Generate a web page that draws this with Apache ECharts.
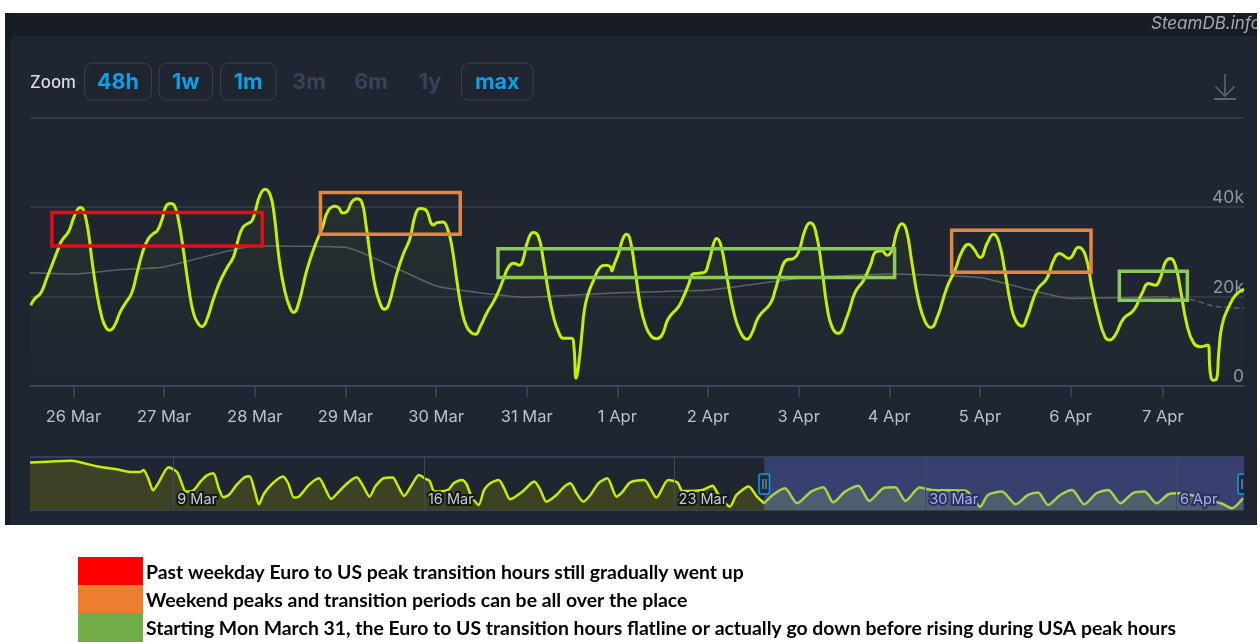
<!DOCTYPE html>
<html>
<head>
<meta charset="utf-8">
<title>Concurrent players</title>
<style>html,body{margin:0;padding:0;background:#fff}#chart{width:1260px;height:642px}</style>
<script src="https://cdn.jsdelivr.net/npm/echarts@6/dist/echarts.min.js"></script>
</head>
<body>
<div id="chart"></div>
<script>
// Hourly player counts: hours since 26 Mar 00:00, thousands of players
const mainHours = [-11.3,-10.2,-8.6,-7.1,-5.7,-4,-3.1,-1.3,0,1.1,1.9,2.8,4,4.9,6.2,7.5,8.6,9.5,10.6,12.4,13.7,15.4,16.8,18.5,19.9,21.2,22.2,23.4,24.5,25.6,26.7,27.8,29.1,30.5,31.8,33.1,34,35.1,37.1,38.8,40.6,42.4,43.7,44.8,45.9,47.2,48.1,49.4,50.8,52.1,53.1,54.5,56,57.4,58.3,59.6,61.8,64,65.8,67.5,69.3,70.2,71.3,72.4,73.7,75,76.3,77.4,78.6,79.9,81.2,82.3,83.4,85.6,87.4,89.1,90.5,91.8,93.1,95.3,96.2,97.8,99,100.2,101.5,102.8,104.1,105.5,106.4,107.7,109.4,111.2,112.5,113.9,115.2,116.5,118.1,119.1,120.2,121.8,123.1,124.4,125.8,127.1,128.4,129.7,131.9,132.5,133.1,133.7,134.7,135.2,136.1,137.7,139.5,140.9,142.2,142.5,143.1,144.3,145.5,146.5,147.4,148.7,150,151.4,152.9,154.4,155.8,157.5,160.2,161.5,162.8,164.2,166.8,168.2,169.5,170.3,171.4,173,174.7,176.5,178.3,179.6,181.4,184.5,185.8,187.1,188.7,190.7,192,193.7,195,196.4,198.2,199.5,200.8,202.4,204.8,207,209.2,211,212.5,214,215.4,216.7,218,219.3,220.5,222,223.7,225.5,227,228.6,231.3,233.4,235.2,237,238.3,240.1,241.9,243.6,245,246.7,248.1,249.4,251.2,252.4,255.1,257.7,259.5,261.1,263.5,266.1,267.9,269.6,271.4,273.1,274.3,275.8,278,280.7,282.9,284.7,286.4,287.7,289.1,290.4,291.7,293.1,294.8,296.6,298.3,300.3,301,301.7,302.6,303.2,304.1,305.9,307.7,309.9];
const mainPlayers = [18,19.5,20.8,24,27,30.7,32.5,34.5,37.5,39.5,39.9,39,34.1,28.1,20.7,15.4,13,12.4,13,16.5,18.4,20.7,25.1,30.4,33,34.1,34.7,37.1,40.2,40.8,40.4,37.1,30.4,22.1,16.2,13.8,13.2,14.3,19.5,23.3,26.3,28.9,33,35.4,36.2,36.9,39,42.7,44,42.7,38.6,28.1,21,17.3,16.4,18.4,25.9,31.5,35.2,39.3,40.2,39.9,38.7,39,41.2,41.9,41.2,36.3,28.9,22.1,18.4,17.1,18,25.1,29.6,33,38.2,39.7,39.5,36,36.5,36.7,35.2,31.1,23.6,16.9,13.2,11.7,11.5,13.2,16.2,18.8,21,24,26.6,27.4,27,28.5,32.2,34.3,33.4,28.1,20.7,15.4,12.1,10.6,10.6,8.7,1.6,4.2,12.4,16.5,20.1,23.6,26.6,27,26.6,25.7,27,29.6,33,33.9,32.6,25.9,18.4,13.6,11.1,10.5,11.3,15,17.7,19.9,22.5,25.1,25.3,27.7,31.9,33,31.5,24.4,16.9,12.1,10.4,11.7,15.4,18.4,21.4,25.1,28.1,28.5,30,34.9,36.5,34.9,25.9,17.7,13.2,11.7,15.4,21,23.6,27,30,30.2,29.2,30.4,34.5,36.3,34.9,27.4,19.2,14.3,13,15.1,22.1,25.9,30,31.7,30.7,28.7,31.9,33.9,32.2,25.1,18.4,14.7,13.3,15.1,21.4,24,28.1,29.6,28.5,31,29.2,22.1,15.4,10.9,10.2,11.3,15,16.9,20.7,22.9,22.5,24,27.7,28.5,27,21.4,13.6,9.5,8.7,9.1,2.7,1.2,1.4,7.2,13.6,17.7,20.3,21.6];

// Trailing average: settled part and the still-provisional tail
const averageHours = [-11.5,0.4,12.4,24,48,72,96.2,120,144,168,192,216,240,264,288.4];
const averagePlayers = [25.3,25,26,26.6,31.3,31,22.3,19.8,20.8,21.4,24,25,24.2,19.5,19.9];
const provisionalHours = [288.4,296.5,301.8,309.9];
const provisionalPlayers = [19.9,19.2,17.8,17.3];

// Highlighted stretches: [from hour, to hour, upper thousands, lower thousands]
const redBoxes = [[-5.7,50,38.8,31.3]];
const orangeBoxes = [[65.4,102.4,43.3,33.9],[232.5,269.4,34.8,25.4]];
const greenBoxes = [[112.4,217.4,30.7,24.2],[276.9,294.9,25.6,19.1]];

const dayTicks = [0,24,48,72,96,120,144,168,192,216,240,264,288.4];
const dayLabels = ['26 Mar','27 Mar','28 Mar','29 Mar','30 Mar','31 Mar','1 Apr','2 Apr','3 Apr','4 Apr','5 Apr','6 Apr','7 Apr'];
const playerTicks = {0:'0',20:'20k',40:'40k',60:''};

// Overview strip: days since 9 Mar, thousands of players
const overviewDays = [-4,-3.39,-2.88,-2.6,-2.15,-1.59,-1.2,-0.92,-0.83,-0.7,-0.56,-0.42,-0.13,0.11,0.22,0.35,0.54,0.76,0.93,1.12,1.27,1.4,1.55,1.77,2,2.13,2.28,2.39,2.54,2.78,3.06,3.21,3.37,3.51,3.79,4.07,4.24,4.41,4.58,4.86,5.12,5.31,5.48,5.64,5.87,6.13,6.26,6.45,6.66,6.86,7.05,7.16,7.3,7.67,7.83,8.06,8.19,8.31,8.53,8.68,8.85,9.09,9.24,9.41,9.75,10.08,10.25,10.42,10.7,10.92,11.09,11.26,11.45,11.65,11.87,12.12,12.38,12.55,12.76,13.15,13.49,13.82,14.08,14.22,14.78,15.06,15.2,15.54,15.73,16.07,16.3,16.5];
const overviewPlayers = [82.4,84.1,85.3,82.9,76,70.8,66.1,66.1,69.6,55.1,34.2,46.4,74.2,65.5,49.3,31.9,33.1,49.3,59.7,63.8,37.7,22,26.1,43.5,57.4,58.6,31.9,9.9,29,46.4,58,46.4,21.5,23.2,43.5,55.1,37.7,19.1,29,46.4,56.8,40.6,23.2,40.6,55.1,56.3,43.5,24.4,43.5,60.9,53.9,50.5,31.9,34.8,46.4,52.2,44.7,26.1,8.7,34.8,46.4,52.2,37.7,18.6,31.9,49.3,34.8,14.5,26.1,40.6,46.4,29,14.5,26.1,46.4,55.1,23.2,31.9,48.1,52.2,21.5,52.2,47.6,33.1,34.8,42.3,29,5.8,26.1,40.6,23.2,11.6];
const selectedDays = [16.5,16.74,17.08,17.42,17.81,18.15,18.43,18.76,19.13,19.44,19.83,20.16,20.45,20.84,21.18,22.13,22.53,22.75,23.14,23.53,23.87,24.15,24.43,24.77,25.1,25.44,25.78,26.11,26.45,26.79,27.12,27.46,27.79,28.08,29.26,29.56,29.87];
const selectedPlayers = [11.6,26.1,37.7,11.6,31.9,39.4,13.3,31.9,42.3,15.7,37.7,39.4,15.7,38.9,34.8,33.6,5.8,26.1,31.9,9.9,26.1,30.2,8.7,26.1,34.8,9.9,29,34.8,11.6,29,31.9,11.6,27.3,29,11.6,2.9,20.3];
const weekTicks = [0,7,14,21,28];
const weekLabels = ['9 Mar','16 Mar','23 Mar','30 Mar','6 Apr'];
const selectedFrom = 21;

// Zoom buttons and key
const activeRanges = [['48h',84,68],['1w',158.5,54.5],['1m',220,56.5],['max',461,72.5]];
const disabledRanges = [['3m',309],['6m',371],['1y',430]];
const keyEntries = [
  ['#ff0000','Past weekday Euro to US peak transition hours still gradually went up'],
  ['#ed7d31','Weekend peaks and transition periods can be all over the place'],
  ['#70ad47','Starting Mon March 31, the Euro to US transition hours flatline or actually go down before rising during USA peak hours']
];

const zip = (xs, ys) => xs.map((x, i) => [x, ys[i]]);
const boxItems = (boxes, color) => boxes.map(b => [
  {coord: [b[0], b[2]], itemStyle: {color: 'rgba(0,0,0,0)', borderColor: color, borderWidth: 3.5}},
  {coord: [b[1], b[3]]}
]);
const UI = 'Inter, "Noto Sans", sans-serif';

const chrome = [
  {type:'rect', z:-5, shape:{x:5,y:13,width:1252,height:512}, style:{fill:'#181c24'}},
  {type:'rect', z:-4, shape:{x:10,y:36,width:1247,height:489,r:[7,0,0,0]}, style:{fill:'#1f2631'}},
  {type:'text', z:30, style:{x:1151,y:24,text:'SteamDB.info',fill:'#a4a9ae',font:'italic 17px '+UI,verticalAlign:'middle'}},
  {type:'rect', z:31, shape:{x:1257,y:0,width:3,height:60}, style:{fill:'#ffffff'}},
  {type:'text', z:30, style:{x:30,y:82.5,text:'Zoom',fill:'#d8dbdf',font:'500 16.8px '+UI,verticalAlign:'middle'}},
  {type:'polyline', z:30, shape:{points:[[1225,74],[1225,96]]}, style:{stroke:'#5f656d',lineWidth:1.6,fill:null}},
  {type:'polyline', z:30, shape:{points:[[1215.5,86.5],[1225,96],[1234.5,86.5]]}, style:{stroke:'#5f656d',lineWidth:1.6,fill:null}},
  {type:'line', z:30, shape:{x1:1214,y1:99,x2:1236,y2:99}, style:{stroke:'#5f656d',lineWidth:2}},
  // Range handles of the overview strip
  {type:'rect', z:30, shape:{x:759,y:474,width:10.5,height:20,r:2}, style:{fill:'#1b2a3c',stroke:'#0b9fe6',lineWidth:1.5}},
  {type:'line', z:30, shape:{x1:763,y1:479,x2:763,y2:489}, style:{stroke:'#9fb7cc',lineWidth:1}},
  {type:'line', z:30, shape:{x1:766,y1:479,x2:766,y2:489}, style:{stroke:'#9fb7cc',lineWidth:1}},
  {type:'rect', z:30, shape:{x:1238,y:474,width:10.5,height:20,r:2}, style:{fill:'#1b2a3c',stroke:'#0b9fe6',lineWidth:1.5}},
  {type:'line', z:30, shape:{x1:1242,y1:479,x2:1242,y2:489}, style:{stroke:'#9fb7cc',lineWidth:1}},
  {type:'rect', z:31, shape:{x:1244,y:470,width:13,height:30}, style:{fill:'#1f2631'}}
];
activeRanges.forEach(([label, x, w]) => {
  chrome.push({type:'rect', z:30, shape:{x:x+0.5,y:63,width:w-1,height:37,r:8}, style:{fill:'rgba(0,0,0,0)',stroke:'#364256',lineWidth:1}});
  chrome.push({type:'text', z:30, style:{x:x+w/2,y:82.5,text:label,fill:'#0d9fe8',font:'700 21.5px '+UI,align:'center',verticalAlign:'middle'}});
});
disabledRanges.forEach(([label, cx]) => {
  chrome.push({type:'text', z:30, style:{x:cx,y:82.5,text:label,fill:'#36445a',font:'700 21.5px '+UI,align:'center',verticalAlign:'middle'}});
});
keyEntries.forEach(([color, text], i) => {
  const top = 557 + i * 28;
  chrome.push({type:'rect', z:30, shape:{x:78,y:top,width:65,height:i === 2 ? 29 : 28}, style:{fill:color}});
  chrome.push({type:'text', z:30, style:{x:146,y:top+16,text,fill:'#000000',font:'700 19.4px Lato, sans-serif',verticalAlign:'middle'}});
});

const chart = echarts.init(document.getElementById('chart'));
chart.setOption({
  animation: false,
  backgroundColor: '#ffffff',
  graphic: {elements: chrome},
  grid: [
    {left: 30, top: 118, width: 1214, height: 267.5},
    {left: 30, top: 457, width: 1214, height: 53}
  ],
  xAxis: [
    {
      type: 'value', gridIndex: 0, min: -11.5, max: 309.9, z: 1,
      splitLine: {show: false},
      axisLine: {show: true, onZero: false, lineStyle: {color: '#3c4a60', width: 1.5}},
      axisTick: {show: true, length: 12, customValues: dayTicks, lineStyle: {color: '#3c4a60', width: 1.5}},
      axisLabel: {
        show: true, customValues: dayTicks, margin: 23, hideOverlap: false,
        color: '#bcc1c8', fontFamily: UI, fontSize: 16.5,
        formatter: v => dayLabels[dayTicks.indexOf(v)]
      }
    },
    {
      type: 'value', gridIndex: 1, min: -4, max: 29.9, z: 8,
      splitLine: {show: false},
      axisLine: {show: false},
      axisTick: {show: true, inside: true, length: 53, customValues: weekTicks, lineStyle: {color: '#3d4a66', width: 1}},
      axisLabel: {
        show: true, inside: true, customValues: weekTicks, margin: 3, align: 'left', hideOverlap: false,
        formatter: v => {
          const name = v >= selectedFrom ? 'sel' : 'dim';
          return '{' + name + '|' + weekLabels[weekTicks.indexOf(v)] + '}';
        },
        rich: {
          dim: {color: '#c9cbce', textBorderColor: '#14161a', textBorderWidth: 4, fontFamily: UI, fontSize: 14.5, padding: [0, 0, 0, 4]},
          sel: {color: '#a9b0d6', textBorderColor: '#28306a', textBorderWidth: 4, fontFamily: UI, fontSize: 14.5, padding: [0, 0, 0, 4]}
        }
      }
    }
  ],
  yAxis: [
    {
      type: 'value', gridIndex: 0, min: 0, max: 60, interval: 20, position: 'right', z: 1,
      axisLine: {show: false}, axisTick: {show: false},
      splitLine: {show: true, lineStyle: {color: '#3a404a', width: 1.5}},
      axisLabel: {
        inside: true, margin: 0, align: 'right', verticalAlign: 'bottom',
        color: '#8f959d', fontFamily: UI, fontSize: 17.5,
        formatter: v => playerTicks[v]
      }
    },
    {
      type: 'value', gridIndex: 1, min: 0, max: 92, interval: 92, z: 1,
      axisLine: {show: false}, axisTick: {show: false}, axisLabel: {show: false},
      splitLine: {show: true, lineStyle: {color: '#3d4a66', width: 1.5}}
    }
  ],
  series: [
    {
      name: 'Average', type: 'line', xAxisIndex: 0, yAxisIndex: 0, z: 3, symbol: 'none', smooth: 0.15,
      data: zip(averageHours, averagePlayers),
      lineStyle: {color: '#5b6068', width: 1.5}
    },
    {
      name: 'Average (provisional)', type: 'line', xAxisIndex: 0, yAxisIndex: 0, z: 3, symbol: 'none', smooth: 0.15,
      data: zip(provisionalHours, provisionalPlayers),
      lineStyle: {color: '#5b6068', width: 1.5, type: 'dashed'}
    },
    {
      name: 'Players', type: 'line', xAxisIndex: 0, yAxisIndex: 0, z: 4, symbol: 'none', smooth: 0.5,
      data: zip(mainHours, mainPlayers),
      lineStyle: {color: '#c2f000', width: 3},
      areaStyle: {
        color: new echarts.graphic.LinearGradient(0, 0, 0, 1, [
          {offset: 0, color: 'rgba(190,235,0,0.07)'},
          {offset: 1, color: 'rgba(190,235,0,0)'}
        ])
      }
    },
    {
      name: 'Highlights', type: 'line', xAxisIndex: 0, yAxisIndex: 0, z: 6, data: [], symbol: 'none',
      markArea: {
        silent: true, z: 6,
        data: [...boxItems(redBoxes, '#e60d12'), ...boxItems(orangeBoxes, '#e5853f'), ...boxItems(greenBoxes, '#8ccb58')]
      }
    },
    {
      name: 'Selected window', type: 'line', xAxisIndex: 1, yAxisIndex: 1, z: 1, data: [], symbol: 'none',
      markArea: {
        silent: true, z: 1,
        data: [[{coord: [16.5, 92], itemStyle: {color: '#37406f'}}, {coord: [29.9, 0]}]]
      }
    },
    {
      name: 'Overview', type: 'line', xAxisIndex: 1, yAxisIndex: 1, z: 4, symbol: 'none', smooth: 0.25,
      data: zip(overviewDays, overviewPlayers),
      lineStyle: {color: '#c2f000', width: 2.5},
      areaStyle: {color: '#3c4223', opacity: 1}
    },
    {
      name: 'Overview (selected)', type: 'line', xAxisIndex: 1, yAxisIndex: 1, z: 4, symbol: 'none', smooth: 0.25,
      data: zip(selectedDays, selectedPlayers),
      lineStyle: {color: '#a9d14a', width: 2.5},
      areaStyle: {color: '#4e5e6e', opacity: 1}
    }
  ]
});
</script>
</body>
</html>
